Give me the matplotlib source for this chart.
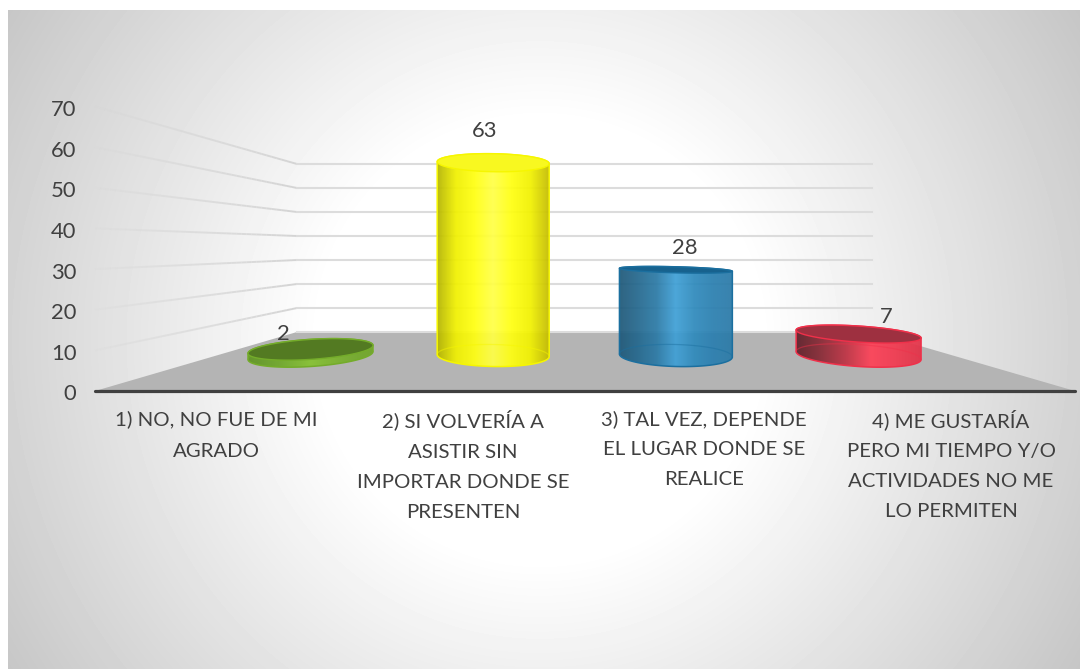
import numpy as np
import matplotlib
matplotlib.use("Agg")
import matplotlib.pyplot as plt
from matplotlib.collections import LineCollection
from matplotlib.colors import LinearSegmentedColormap
from matplotlib.patches import Polygon, PathPatch
from matplotlib.path import Path
from matplotlib.transforms import ScaledTranslation

categories = ["1) NO, NO FUE DE MI\nAGRADO",
              "2) SI VOLVERÍA A\nASISTIR SIN\nIMPORTAR DONDE SE\nPRESENTEN",
              "3) TAL VEZ, DEPENDE\nEL LUGAR DONDE SE\nREALICE",
              "4) ME GUSTARÍA\nPERO MI TIEMPO Y/O\nACTIVIDADES NO ME\nLO PERMITEN"]
values = [2, 63, 28, 7]
y_ticks = [0, 10, 20, 30, 40, 50, 60, 70]

# styles
label_tick_nudge = [-0.006, 0.002, -0.014, -0.006]
label_linespacing = [2.08, 1.94, 1.93, 1.92]
label_dy_px = [-2, 0, -5, 0]
widths = [0.684, 0.613, 0.618, 0.684]
top_semi_px = [10, 9, 3, 8]
base_semi_px = [11, 11, 11, 11]
tilt_px = [4, -1, -1.5, -4]
label_offsets_px = [(-27, 15), (-9, 32), (8.5, 21.5), (28, 17)]
body_stops = [
    ["#5f9423", "#6fa82a", "#86c232", "#78b02c", "#6ea428"],
    ["#b4b400", "#f0f000", "#ffff10", "#ffff48", "#ffff10", "#f2f200", "#c4bc00"],
    ["#1f5878", "#24688e", "#2b7aa6", "#3fa0d6", "#2f8abc", "#2a7fb0", "#2a7aa8"],
    ["#5f2029", "#8a2a36", "#c03344", "#ff4258", "#f23a50", "#e23248"],
]
top_colors = ["#537a22", "#f8f820", "#17628e", "#9e3040"]
edge_colors = ["#74ac2a", "#f6f600", "#1b6f9f", "#f0304a"]
text_color = "#404040"

W, H = 1080, 669
plt.rcParams["font.family"] = ["Lato", "DejaVu Sans"]
fig = plt.figure(figsize=(W / 100, H / 100), dpi=100, facecolor="white")


def rect(x0, y_top, x1, y_bot):
    return [x0 / W, 1 - y_bot / H, (x1 - x0) / W, (y_bot - y_top) / H]


# background in pixel coordinates
bg = fig.add_axes([0, 0, 1, 1], zorder=0)
bg.set_xlim(0, W)
bg.set_ylim(H, 0)
bg.axis("off")
xx, yy = np.meshgrid(np.arange(8, W) + 0.5, np.arange(10, H) + 0.5)
r = np.hypot(xx - 540, yy - 340)
shade = 255 - 57 * np.clip((r - 220) / 410, 0, 1)
bg.imshow(shade, cmap="gray", vmin=0, vmax=255, extent=(8, W, H, 10),
          aspect="auto", interpolation="bilinear")
bg.set_xlim(0, W)
bg.set_ylim(H, 0)

# front value axis and category axis
front = fig.add_axes(rect(95, 106.5, 1075, 391), zorder=3)
front.patch.set_alpha(0)
front.set_ylim(0, 70)
front.set_xlim(-0.5, 3.5)
front.set_yticks(y_ticks)
front.set_xticks([k + n for k, n in zip(range(len(categories)), label_tick_nudge)])
front.set_xticklabels(categories)
for lab, ls, dy in zip(front.get_xticklabels(), label_linespacing, label_dy_px):
    lab.set_linespacing(ls)
    lab.set_transform(lab.get_transform() + ScaledTranslation(0, dy / 100, fig.dpi_scale_trans))
front.tick_params(axis="y", length=0, pad=13.5, labelsize=15.8, labelcolor=text_color)
front.tick_params(axis="x", length=0, pad=13.5, labelsize=14.7, labelcolor=text_color)
for lab in front.get_yticklabels():
    lab.set_transform(lab.get_transform() + ScaledTranslation(0, -1.5 / 100, fig.dpi_scale_trans))
for s in ["top", "left", "right"]:
    front.spines[s].set_visible(False)
front.spines["bottom"].set_color(text_color)
front.spines["bottom"].set_linewidth(2.3)
front.spines["bottom"].set_capstyle("round")

# back wall
back = fig.add_axes(rect(297, 164, 872, 332), zorder=1)
back.patch.set_alpha(0)
back.set_ylim(0, 70)
back.set_xlim(0, 1)
back.set_yticks(y_ticks)
back.set_xticks([])
back.tick_params(axis="y", length=0, labelleft=False)
back.grid(axis="y", color="#dcdcdc", lw=1.5)
for gl in back.get_ygridlines():
    gl.set_clip_on(False)
for s in back.spines.values():
    s.set_visible(False)


def to_bg(ax, x, y):
    return bg.transData.inverted().transform(ax.transData.transform((x, y)))


# side-wall gridlines fade towards the viewer
segs, seg_colors = [], []
for v in y_ticks[1:]:
    p0 = to_bg(front, -0.5, v)
    p1 = to_bg(back, 0, v)
    fr = np.linspace(0, 1, 41)
    pts = p0 + np.outer(fr, p1 - p0)
    for k in range(40):
        segs.append(pts[k:k + 2])
        seg_colors.append((0.83, 0.83, 0.83, 0.1 + 0.9 * fr[k] ** 0.8))
bg.add_collection(LineCollection(segs, colors=seg_colors, linewidths=1.4, zorder=2))

# floor
floor = [to_bg(front, -0.5, 0), to_bg(back, 0, 0), to_bg(back, 1, 0), to_bg(front, 3.5, 0)]
bg.add_patch(Polygon(floor, closed=True, facecolor="#b4b4b4", edgecolor="none", zorder=3))

# cylinders: value scale 3.06 px per unit, base at y = 355.5 px
PX = 3.06
cyl = fig.add_axes(rect(0, 0, W, H), zorder=2)
cyl.patch.set_alpha(0)
cyl.axis("off")
xlim = (-310.5 / 182.7, (W - 310.5) / 182.7)
ylim = (-(H - 355.5) / PX, 355.5 / PX)


def ellipse(cx, cy, a, b, tilt, t):
    return np.column_stack([cx + a * np.cos(t), cy + b * np.sin(t) + tilt * np.cos(t)])


for i, v in enumerate(values):
    a = widths[i] / 2
    bt, bb, tl = top_semi_px[i] / PX, base_semi_px[i] / PX, tilt_px[i] / PX
    upper = np.linspace(0, np.pi, 80)
    lower = np.linspace(np.pi, 2 * np.pi, 80)
    full = np.linspace(0, 2 * np.pi, 160)
    outline = np.vstack([ellipse(i, 0, a, bb, tl, lower), ellipse(i, v, a, bt, tl, upper)])
    body_patch = Polygon(outline, closed=True, transform=cyl.transData, facecolor="none",
                         edgecolor=edge_colors[i], lw=1.1, zorder=5)
    cmap = LinearSegmentedColormap.from_list(f"c{i}", body_stops[i])
    grad = np.linspace(0, 1, 256)[None, :]
    im = cyl.imshow(grad, cmap=cmap, aspect="auto", alpha=0.93, zorder=4,
                    extent=(i - a, i + a, outline[:, 1].min(), outline[:, 1].max()))
    clip = PathPatch(Path(np.vstack([outline, outline[0]])), transform=cyl.transData,
                     facecolor="none", edgecolor="none")
    cyl.add_patch(clip)
    im.set_clip_path(clip)
    cyl.add_patch(body_patch)
    # base rim seen through the body
    rim = ellipse(i, 0, a, bb, tl, upper)
    cyl.plot(rim[:, 0], rim[:, 1], color=edge_colors[i], lw=0.9, alpha=0.45, zorder=5)
    # top face
    cyl.add_patch(Polygon(ellipse(i, v, a, bt, tl, full), closed=True, facecolor=top_colors[i],
                          edgecolor=edge_colors[i], lw=1.0, zorder=6))
    dx, dy = label_offsets_px[i]
    cyl.annotate(str(v), (i, v), xytext=(dx * 0.72, dy * 0.72), textcoords="offset points",
                 ha="center", va="center", fontsize=15.8, color=text_color, zorder=7)
cyl.set_xlim(*xlim)
cyl.set_ylim(*ylim)

fig.savefig("out.png", dpi=100, facecolor="white")
